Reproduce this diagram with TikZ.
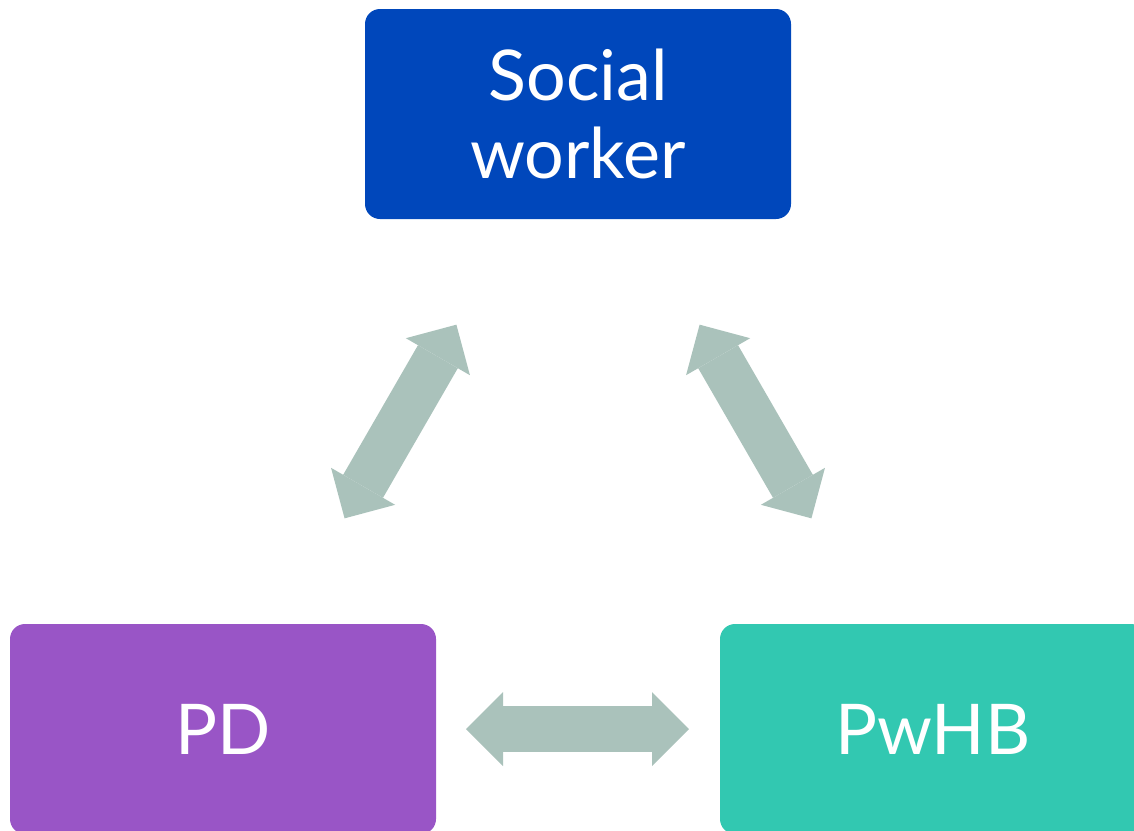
\documentclass[tikz,border=0pt]{standalone}
\usepackage{fontspec}
\setmainfont{Lato}
\usetikzlibrary{arrows.meta}

\definecolor{swblue}{HTML}{0047BB}
\definecolor{pdpurple}{HTML}{9955C6}
\definecolor{pwteal}{HTML}{32C8B1}
\definecolor{linkgrey}{HTML}{AAC2BB}

\begin{document}
\begin{tikzpicture}[x=0.5pt, y=-0.5pt,
    >={Triangle[length=18.5pt, width=37pt, line width=0pt]},
    box/.style={rounded corners=7.5pt, minimum width=213pt, minimum height=105pt,
      inner sep=0pt, outer sep=0pt, text=white, align=center,
      font=\fontsize{35}{39}\selectfont},
    link/.style={<->, line width=23pt, draw=linkgrey, fill=linkgrey}]
  \useasboundingbox (0,0) rectangle (1134,830);
  \clip (0,0) rectangle (1134,830);

  % the three parties
  \node[box, fill=swblue] (sw) at (578,114) {Social\\worker};
  \node[box, fill=pdpurple] (pd) at (223,729) {PD};
  \node[box, fill=pwteal] (pwhb) at (933,729) {PwHB};

  % two-way links, kept clear of the boxes
  \draw[link, shorten <=61pt, shorten >=61pt] (sw) -- (pd);
  \draw[link, shorten <=61pt, shorten >=61pt] (sw) -- (pwhb);
  \draw[link, shorten <=15pt, shorten >=15.5pt] (pd) -- (pwhb);
\end{tikzpicture}
\end{document}
